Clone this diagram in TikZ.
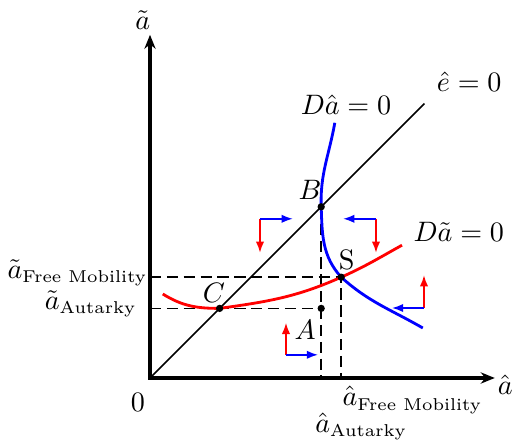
\documentclass[tikz,border=0pt]{standalone}
\usepackage{amsmath,amssymb}
\usetikzlibrary{arrows.meta,calc,positioning}

\newcommand{\subtxt}[1]{\text{\fontsize{6.1pt}{7pt}\selectfont #1}}

\begin{document}
\begin{tikzpicture}[
  axisline/.style={line width=1.2pt,{Stealth[length=5pt,width=4pt]}-{Stealth[length=5pt,width=4pt]}},
  guide/.style={semithick,dash pattern=on 4pt off 2pt},
  locus/.style={line width=1pt},
  redarr/.style={red,semithick,-{Latex[length=4pt,width=3pt]}},
  bluearr/.style={blue,semithick,-{Latex[length=4pt,width=3pt]}},
  every node/.style={inner sep=1pt}]
 \useasboundingbox (-1.875,-0.7875) rectangle (4.525,4.725);
 % points of the phase diagram
 \coordinate (O) at (0,0);
 \coordinate (B) at (2.14,2.14);
 \coordinate (S) at (2.39,1.26);
 \coordinate (C) at (0.87,0.87);
 \coordinate (A) at (2.14,0.87);
 \coordinate (ytop) at (0,4.29);
 \coordinate (xend) at (4.31,0);
 % dashed guides
 \draw[guide] (O |- C) -- (A);
 \draw[guide] (O |- S) -- (S) -- (S |- O);
 \draw[guide] (B) -- (B |- O);
 % e-hat = 0
 \draw[semithick] (O) -- (3.43,3.43);
 % D a-tilde = 0
 \draw[locus,red] (0.16,1.05) to[out=-32,in=180] (C)
   to[out=8,in=-156] (S) to[out=24,in=-151] (3.15,1.66);
 % D a-hat = 0
 \draw[locus,blue] (2.31,3.19) to[out=-100,in=92] (B)
   to[out=-88,in=132] (S) to[out=-42,in=150] (3.41,0.625);
 % motion arrows
 \foreach \cx/\cy/\dx/\dy in {1.375/1.99/0.41/-0.425, 2.825/1.99/-0.41/-0.425,
                              3.425/0.875/-0.40/0.41, 1.70/0.29/0.40/0.40}{
   \draw[redarr] (\cx,\cy) -- ++(0,\dy);
   \draw[bluearr] (\cx,\cy) -- ++(\dx,0);}
 \draw[axisline] (ytop) -- (O) -- (xend);
 \foreach \p in {B,S,C,A} \fill (\p) circle (1.3pt);
 % labels
 \node (ylab) at (-0.09,4.475) {$\tilde{a}$};
 \node (xlab) at (4.44,-0.09) {$\hat{a}$};
 \node (zero) at (-0.15,-0.3) {$0$};
 \node (elab) at (3.99,3.7) {$\hat{e}=0$};
 \node (dahat) at (2.45,3.41) {$D\hat{a}=0$};
 \node (datil) at (3.86,1.825) {$D\tilde{a}=0$};
 \node (lB) at (2.0,2.35) {$B$};
 \node (lS) at (2.46,1.475) {S};
 \node (lC) at (0.8,1.06) {$C$};
 \node (lA) at (1.94,0.6) {$A$};
 \node[anchor=east,inner sep=0pt] (yfree) at (-0.025,1.31) {$\tilde{a}_{\subtxt{Free Mobility}}$};
 \node[anchor=east,inner sep=0pt] (yaut) at (-0.16,0.925) {$\tilde{a}_{\subtxt{Autarky}}$};
 \node[anchor=west,inner sep=0pt] (xfree) at (2.4,-0.275) {$\hat{a}_{\subtxt{Free Mobility}}$};
 \node[anchor=west,inner sep=0pt] (xaut) at (2.06,-0.61) {$\hat{a}_{\subtxt{Autarky}}$};
\end{tikzpicture}
\end{document}
